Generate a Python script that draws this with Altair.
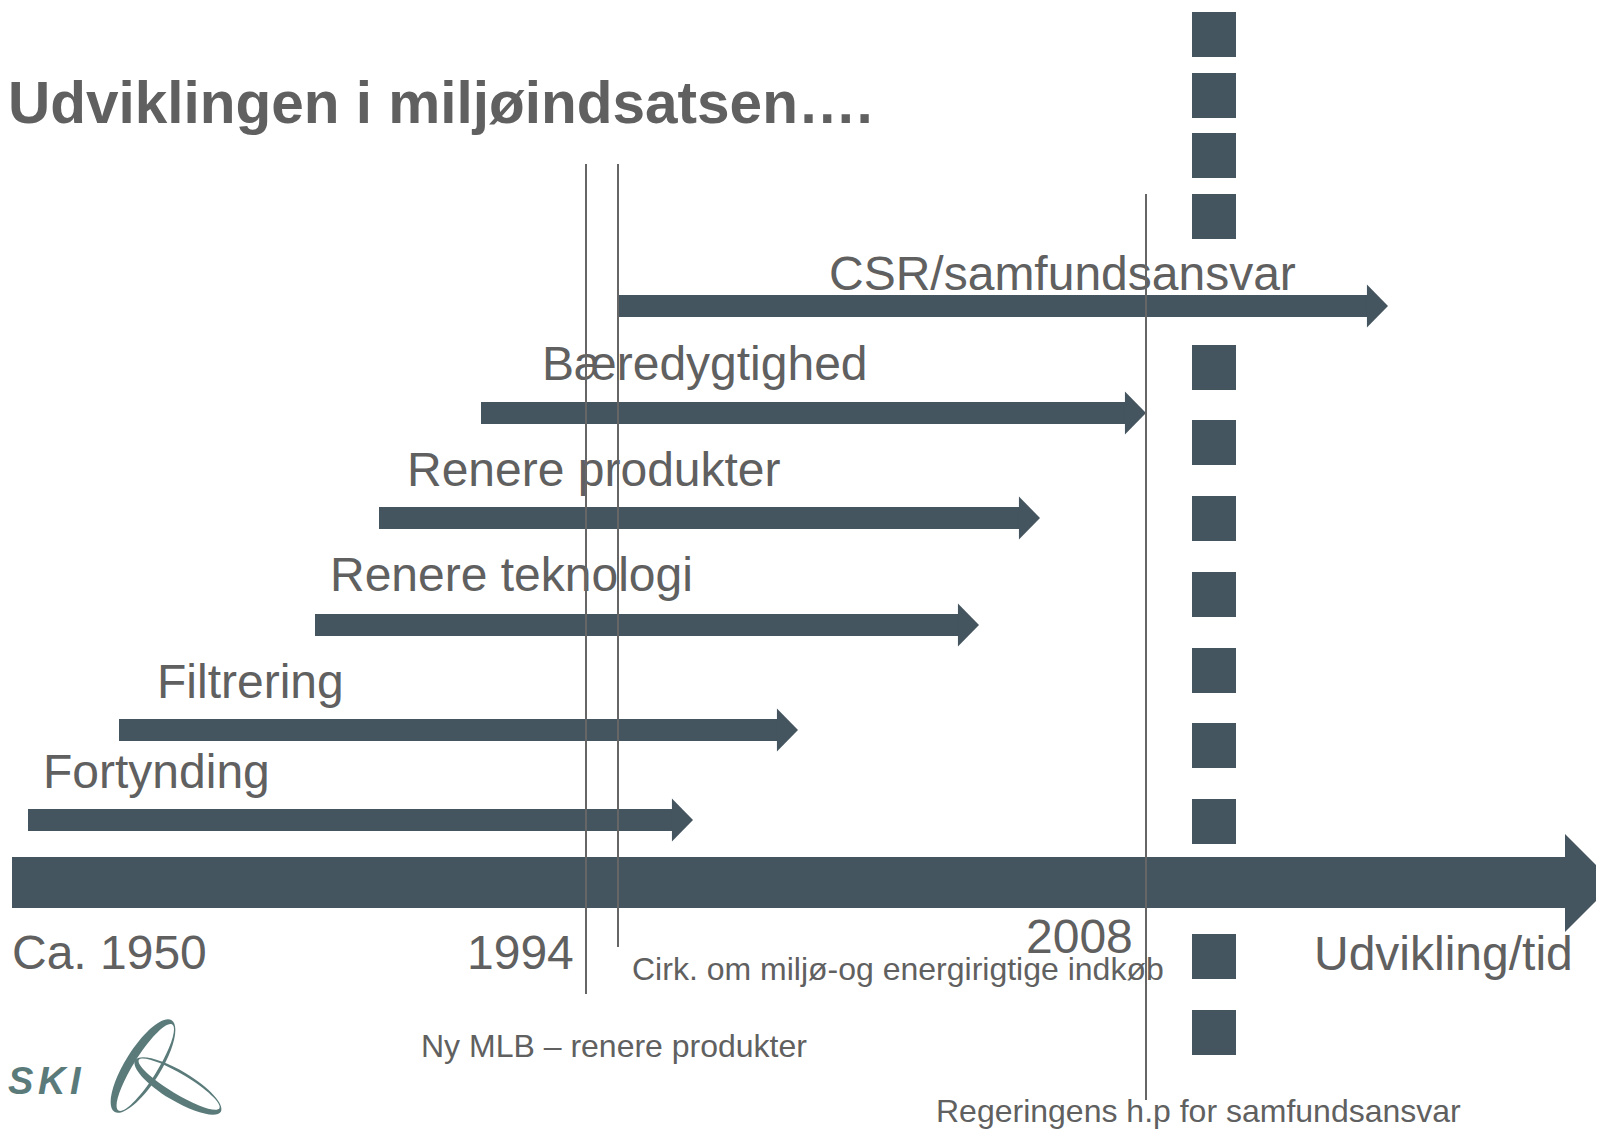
import altair as alt
import pandas as pd

# ---------------- data (diagram units = reference pixel grid) ----------------
stage_labels = ["Fortynding", "Filtrering", "Renere teknologi",
                "Renere produkter", "Bæredygtighed", "CSR/samfundsansvar"]
stage_start = [28, 119, 315, 379, 481, 619]
stage_tip = [693, 798, 979, 1040, 1146, 1388]
stage_level = [820, 730, 625, 518, 413, 306]
label_x = [43, 157, 330, 407, 542, 829]
label_base = [788, 698, 591, 486, 380, 290]

axis_start = [12]
axis_tip = [1614]
axis_level = [883]

year_labels = ["Ca. 1950", "1994", "2008", "Udvikling/tid"]
year_x = [12, 467, 1026, 1314]
year_base = [969, 969, 953, 970]

note_labels = ["Cirk. om miljø-og energirigtige indkøb",
               "Ny MLB – renere produkter",
               "Regeringens h.p for samfundsansvar"]
note_x = [632, 421, 936]
note_base = [980, 1057, 1122]

marker_x = [586, 618, 1146]
marker_top = [164, 164, 194]
marker_bottom = [994, 947, 1100]

dash_tops = [12, 73, 133, 194, 345, 420, 496, 572, 648, 723, 799, 934, 1010]
dash_left = 1192
dash_right = 1236

title_text = "Udviklingen i miljøindsatsen…."

logo_letters = ["S", "K", "I"]
logo_letter_x = [8, 38, 70]
logo_letter_base = [1094, 1094, 1094]

# ---------------- styles ----------------
ARROW = "#45555f"
TEXT = "#606060"
LINE = "#666666"
LOGO = "#5b7b7b"
FONT = "Liberation Sans"

W, H = 1588, 1122
xs = alt.Scale(domain=[8, 1596], nice=False, zero=False)
ys = alt.Scale(domain=[8, 1130], nice=False, zero=False, reverse=True)

def X(f):
    return alt.X(f, type="quantitative", scale=xs, axis=None)

def Y(f):
    return alt.Y(f, type="quantitative", scale=ys, axis=None)

HEAD_LEN = 21
HALF_BAR = 11

stages = pd.DataFrame({
    "label": stage_labels, "start": stage_start, "tip": stage_tip,
    "level": stage_level, "lx": label_x, "lb": label_base,
})

bodies = alt.Chart(stages).transform_calculate(
    x1=f"datum.tip - {HEAD_LEN}",
    y0=f"datum.level - {HALF_BAR}",
    y1=f"datum.level + {HALF_BAR}",
).mark_rect(color=ARROW).encode(
    x=X("start"), x2="x1:Q", y=Y("y0"), y2="y1:Q"
)

head_path = "M -0.98 -1 L 0 0 L -0.98 1 Z"
heads = alt.Chart(stages).mark_point(
    shape=head_path, size=43 * 43, filled=True, opacity=1,
    color=ARROW, strokeWidth=0
).encode(x=X("tip"), y=Y("level"))

stage_text = alt.Chart(stages).mark_text(
    align="left", baseline="alphabetic", font=FONT, fontSize=48, color=TEXT
).encode(x=X("lx"), y=Y("lb"), text="label:N")

main = pd.DataFrame({"start": axis_start, "tip": axis_tip, "level": axis_level})
main_body = alt.Chart(main).transform_calculate(
    x1="datum.tip - 49", y0="datum.level - 26", y1="datum.level + 25"
).mark_rect(color=ARROW).encode(
    x=X("start"), x2="x1:Q", y=Y("y0"), y2="y1:Q"
)
main_head = alt.Chart(main).mark_point(
    shape="M -1 -1 L 0 0 L -1 1 Z", size=98 * 98, filled=True, opacity=1,
    color=ARROW, strokeWidth=0
).encode(x=X("tip"), y=Y("level"))

dashes = pd.DataFrame({"top": dash_tops})
dash_layer = alt.Chart(dashes).transform_calculate(
    left=str(dash_left), right=str(dash_right), bottom="datum.top + 45"
).mark_rect(color=ARROW).encode(
    x=X("left"), x2="right:Q", y=Y("top"), y2="bottom:Q"
)

markers = pd.DataFrame({"x": marker_x, "top": marker_top, "bottom": marker_bottom})
marker_layer = alt.Chart(markers).mark_rule(color=LINE, strokeWidth=2).encode(
    x=X("x"), y=Y("top"), y2="bottom:Q"
)

years = pd.DataFrame({"t": year_labels, "x": year_x, "b": year_base})
year_layer = alt.Chart(years).mark_text(
    align="left", baseline="alphabetic", font=FONT, fontSize=48, color=TEXT
).encode(x=X("x"), y=Y("b"), text="t:N")

notes = pd.DataFrame({"t": note_labels, "x": note_x, "b": note_base})
note_layer = alt.Chart(notes).mark_text(
    align="left", baseline="alphabetic", font=FONT, fontSize=32, color=TEXT
).encode(x=X("x"), y=Y("b"), text="t:N")

title_df = pd.DataFrame({"t": [title_text], "x": [8], "b": [123]})
title_layer = alt.Chart(title_df).mark_text(
    align="left", baseline="alphabetic", font=FONT, fontSize=58.5,
    fontWeight="bold", color=TEXT
).encode(x=X("x"), y=Y("b"), text="t:N")

# logo
logo_txt = pd.DataFrame({"t": logo_letters, "x": logo_letter_x, "b": logo_letter_base})
logo_text = alt.Chart(logo_txt).mark_text(
    align="left", baseline="alphabetic", font=FONT, fontSize=38,
    fontStyle="italic", fontWeight="bold", color=LOGO
).encode(x=X("x"), y=Y("b"), text="t:N")

# crescent-shaped loops (thick on one side)
crescent_top_thick = ("M -1 0 A 1 0.33 0 1 0 1 0 A 1 0.33 0 1 0 -1 0 Z "
                      "M -0.94 0.05 A 0.94 0.22 0 1 1 0.94 0.05 "
                      "A 0.94 0.22 0 1 1 -0.94 0.05 Z")
crescent_bottom_thick = ("M -1 0 A 1 0.3 0 1 0 1 0 A 1 0.3 0 1 0 -1 0 Z "
                         "M -0.94 -0.045 A 0.94 0.2 0 1 1 0.94 -0.045 "
                         "A 0.94 0.2 0 1 1 -0.94 -0.045 Z")
loop1 = pd.DataFrame({"x": [143], "y": [1066], "ang": [302]})
loop2 = pd.DataFrame({"x": [178], "y": [1086], "ang": [31]})
logo_loop1 = alt.Chart(loop1).mark_point(
    shape=crescent_top_thick, size=108 * 108, filled=True, color=LOGO,
    strokeWidth=0, opacity=1
).encode(x=X("x"), y=Y("y"), angle=alt.Angle("ang:Q", scale=None))
logo_loop2 = alt.Chart(loop2).mark_point(
    shape=crescent_bottom_thick, size=100 * 100, filled=True, color=LOGO,
    strokeWidth=0, opacity=1
).encode(x=X("x"), y=Y("y"), angle=alt.Angle("ang:Q", scale=None))

chart = alt.layer(
    bodies, heads, main_body, main_head, dash_layer,
    stage_text, year_layer, note_layer, title_layer,
    logo_loop1, logo_loop2, logo_text, marker_layer
).properties(
    width=W, height=H, padding=0, autosize=alt.AutoSizeParams(type="none"),
    background="white"
).configure_view(stroke=None)

chart.save("out.html", embed_options={"renderer": "svg", "actions": False})
